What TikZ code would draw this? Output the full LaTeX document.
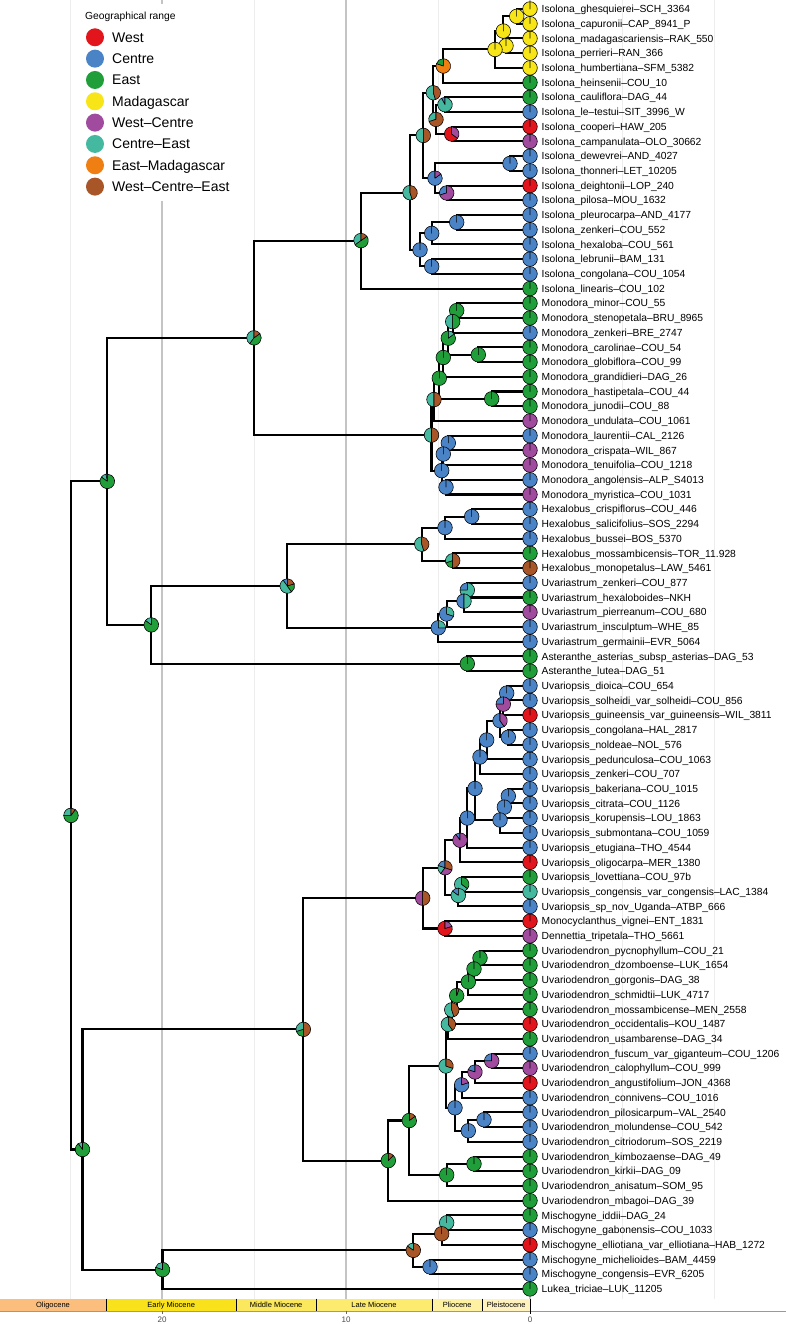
\documentclass[tikz,border=0pt]{standalone}
\usepackage{fontspec}
\setmainfont{Liberation Sans}
\usetikzlibrary{calc}
\definecolor{cW}{HTML}{E3151C}
\definecolor{cC}{HTML}{4A83C6}
\definecolor{cE}{HTML}{1F9E3A}
\definecolor{cM}{HTML}{F7E517}
\definecolor{cWC}{HTML}{A04B9E}
\definecolor{cCE}{HTML}{45B8A0}
\definecolor{cEM}{HTML}{EF7F12}
\definecolor{cWCE}{HTML}{A85628}
\definecolor{gridmaj}{HTML}{C4C4C4}
\definecolor{gridmin}{HTML}{EDEDED}
\definecolor{epOl}{HTML}{FBBE7C}
\definecolor{epEM}{HTML}{F9E21C}
\definecolor{epMM}{HTML}{FBE85C}
\definecolor{epLM}{HTML}{FDEB70}
\definecolor{epPl}{HTML}{FEF1A2}
\definecolor{epPs}{HTML}{FFF2BE}
\newcommand{\pierad}{7.3pt}
\newcommand{\npie}[2]{%
  \gdef\pang{90}%
  \foreach \pc/\pf in {#2}{%
    \pgfmathsetmacro\pend{\pang+360*\pf}%
    \filldraw[fill=\pc, draw=black, line width=0.55pt, line join=round] (#1) -- ++(\pang:\pierad) arc[start angle=\pang, end angle=\pend, radius=\pierad] -- cycle;%
    \xdef\pang{\pend}%
  }%
}
\newcommand{\inode}[4]{%
  \path let \p1=(#3), \p2=(#4) in coordinate (#1) at (#2pt, {(\y1+\y2)/2});%
  \draw[branch] (#3) -| (#1) |- (#4);%
}
\begin{document}
\begin{tikzpicture}[x=1pt,y=-1pt,
  branch/.style={line width=2.05pt, black},
  tiplab/.style={anchor=base west, inner sep=0pt, xshift=11.5pt, yshift=-3.7pt, font=\fontsize{10.3}{12}\selectfont},
  legdot/.style={circle, inner sep=0pt, minimum size=18pt},
  legtxt/.style={anchor=base west, inner sep=0pt, font=\fontsize{14}{16}\selectfont},
  eplab/.style={anchor=base, inner sep=0pt, font=\fontsize{7.5}{9}\selectfont},
  ticklab/.style={anchor=base, inner sep=0pt, text=black!70, font=\fontsize{8}{9}\selectfont}]
\useasboundingbox (0,0) rectangle (786,1324);
\fill[white] (0,0) rectangle (786,1324);
% grid
\foreach \gx in {70,254,438,622,714}{\draw[gridmin, line width=0.9pt] (\gx,0) -- (\gx,1298.5);}
\foreach \gx in {162,346,530}{\draw[gridmaj, line width=1.2pt] (\gx,0) -- (\gx,1298.5);}
% legend
\fill[white] (74,4) rectangle (240,201);
\node[anchor=base west, inner sep=0pt, font=\fontsize{10.3}{12}\selectfont] (legtitle) at (85,19.5) {Geographical range};
\foreach \lc/\lt [count=\k] in {cW/West, cC/Centre, cE/East, cM/Madagascar, cWC/West--Centre, cCE/Centre--East, cEM/East--Madagascar, cWCE/West--Centre--East}{
  \node[legdot, fill=\lc] (ld\k) at (95,{37.3+21.33*(\k-1)}) {};
  \node[legtxt] (lt\k) at (112,{42.3+21.33*(\k-1)}) {\lt};
}
% tips
\foreach \n [count=\i] in {
Isolona\_ghesquierei--SCH\_3364, Isolona\_capuronii--CAP\_8941\_P, Isolona\_madagascariensis--RAK\_550, Isolona\_perrieri--RAN\_366, Isolona\_humbertiana--SFM\_5382, Isolona\_heinsenii--COU\_10, Isolona\_cauliflora--DAG\_44, Isolona\_le--testui--SIT\_3996\_W, Isolona\_cooperi--HAW\_205, Isolona\_campanulata--OLO\_30662,
Isolona\_dewevrei--AND\_4027, Isolona\_thonneri--LET\_10205, Isolona\_deightonii--LOP\_240, Isolona\_pilosa--MOU\_1632, Isolona\_pleurocarpa--AND\_4177, Isolona\_zenkeri--COU\_552, Isolona\_hexaloba--COU\_561, Isolona\_lebrunii--BAM\_131, Isolona\_congolana--COU\_1054, Isolona\_linearis--COU\_102,
Monodora\_minor--COU\_55, Monodora\_stenopetala--BRU\_8965, Monodora\_zenkeri--BRE\_2747, Monodora\_carolinae--COU\_54, Monodora\_globiflora--COU\_99, Monodora\_grandidieri--DAG\_26, Monodora\_hastipetala--COU\_44, Monodora\_junodii--COU\_88, Monodora\_undulata--COU\_1061, Monodora\_laurentii--CAL\_2126,
Monodora\_crispata--WIL\_867, Monodora\_tenuifolia--COU\_1218, Monodora\_angolensis--ALP\_S4013, Monodora\_myristica--COU\_1031, Hexalobus\_crispiflorus--COU\_446, Hexalobus\_salicifolius--SOS\_2294, Hexalobus\_bussei--BOS\_5370, Hexalobus\_mossambicensis--TOR\_11.928, Hexalobus\_monopetalus--LAW\_5461, Uvariastrum\_zenkeri--COU\_877,
Uvariastrum\_hexaloboides--NKH, Uvariastrum\_pierreanum--COU\_680, Uvariastrum\_insculptum--WHE\_85, Uvariastrum\_germainii--EVR\_5064, Asteranthe\_asterias\_subsp\_asterias--DAG\_53, Asteranthe\_lutea--DAG\_51, Uvariopsis\_dioica--COU\_654, Uvariopsis\_solheidi\_var\_solheidi--COU\_856, Uvariopsis\_guineensis\_var\_guineensis--WIL\_3811, Uvariopsis\_congolana--HAL\_2817,
Uvariopsis\_noldeae--NOL\_576, Uvariopsis\_pedunculosa--COU\_1063, Uvariopsis\_zenkeri--COU\_707, Uvariopsis\_bakeriana--COU\_1015, Uvariopsis\_citrata--COU\_1126, Uvariopsis\_korupensis--LOU\_1863, Uvariopsis\_submontana--COU\_1059, Uvariopsis\_etugiana--THO\_4544, Uvariopsis\_oligocarpa--MER\_1380, Uvariopsis\_lovettiana--COU\_97b,
Uvariopsis\_congensis\_var\_congensis--LAC\_1384, Uvariopsis\_sp\_nov\_Uganda--ATBP\_666, Monocyclanthus\_vignei--ENT\_1831, Dennettia\_tripetala--THO\_5661, Uvariodendron\_pycnophyllum--COU\_21, Uvariodendron\_dzomboense--LUK\_1654, Uvariodendron\_gorgonis--DAG\_38, Uvariodendron\_schmidtii--LUK\_4717, Uvariodendron\_mossambicense--MEN\_2558, Uvariodendron\_occidentalis--KOU\_1487,
Uvariodendron\_usambarense--DAG\_34, Uvariodendron\_fuscum\_var\_giganteum--COU\_1206, Uvariodendron\_calophyllum--COU\_999, Uvariodendron\_angustifolium--JON\_4368, Uvariodendron\_connivens--COU\_1016, Uvariodendron\_pilosicarpum--VAL\_2540, Uvariodendron\_molundense--COU\_542, Uvariodendron\_citriodorum--SOS\_2219, Uvariodendron\_kimbozaense--DAG\_49, Uvariodendron\_kirkii--DAG\_09,
Uvariodendron\_anisatum--SOM\_95, Uvariodendron\_mbagoi--DAG\_39, Mischogyne\_iddii--DAG\_24, Mischogyne\_gabonensis--COU\_1033, Mischogyne\_elliotiana\_var\_elliotiana--HAB\_1272, Mischogyne\_michelioides--BAM\_4459, Mischogyne\_congensis--EVR\_6205, Lukea\_triciae--LUK\_11205}{
  \coordinate (t\i) at (530,{9+(\i-1)*14.712});
  \node[tiplab] (lab\i) at (t\i) {\n};
}
% internal nodes (Isolona)
\inode{A1}{516.7}{t1}{t2}
\inode{A2}{506}{t3}{t4}
\inode{A3}{503.3}{A1}{A2}
\inode{A4}{495}{A3}{t5}
\inode{A5}{443.3}{A4}{t6}
\inode{B1}{445}{t7}{t8}
\inode{B2}{451.7}{t9}{t10}
\inode{B3}{436}{B1}{B2}
\inode{B4}{433.3}{A5}{B3}
\inode{C1}{510}{t11}{t12}
\inode{C2}{446.7}{t13}{t14}
\inode{C3}{435}{C1}{C2}
\inode{B5}{423.3}{B4}{C3}
\inode{Dd1}{456.7}{t15}{t16}
\inode{Dd2}{431.7}{Dd1}{t17}
\inode{Dd3}{431.7}{t18}{t19}
\inode{Dd4}{420}{Dd2}{Dd3}
\inode{E1}{410}{B5}{Dd4}
\inode{E2}{361}{E1}{t20}
% Monodora
\inode{M1}{456.7}{t21}{t22}
\inode{M2}{452.7}{M1}{t23}
\inode{Mcg}{478.3}{t24}{t25}
\inode{M3}{448.3}{M2}{Mcg}
\inode{M4}{443.3}{M3}{t26}
\inode{Mhj}{491.7}{t27}{t28}
\inode{M5}{439.3}{M4}{Mhj}
\inode{M6}{434}{M5}{t29}
\inode{L1}{448.3}{t30}{t31}
\inode{L2}{443.3}{L1}{t32}
\inode{L3}{446}{t33}{t34}
\inode{L4}{441.7}{L2}{L3}
\inode{M7}{431.5}{M6}{L4}
\inode{F}{254}{E2}{M7}
% Hexalobus, Uvariastrum, Asteranthe
\inode{Hx1}{471.7}{t35}{t36}
\inode{Hx2}{445}{Hx1}{t37}
\inode{Hx3}{452.7}{t38}{t39}
\inode{Hx4}{421.7}{Hx2}{Hx3}
\inode{U1}{467.3}{t40}{t41}
\inode{U2}{464}{U1}{t42}
\inode{U3}{446.7}{U2}{t43}
\inode{U4}{438.3}{U3}{t44}
\inode{Ih}{287.3}{Hx4}{U4}
\inode{Ast}{467.3}{t45}{t46}
\inode{H}{151.3}{Ih}{Ast}
\inode{G}{107.3}{F}{H}
% Uvariopsis
\inode{P1}{506.7}{t47}{t48}
\inode{P2}{503.3}{P1}{t49}
\inode{P4}{508.3}{t50}{t51}
\inode{P3}{500}{P2}{P4}
\inode{P5}{486.7}{P3}{t52}
\inode{P6}{480}{P5}{t53}
\inode{Q1}{508.3}{t54}{t55}
\inode{Q2}{504.3}{Q1}{t56}
\inode{Q3}{500}{Q2}{t57}
\inode{P7}{475}{P6}{Q3}
\inode{P8}{467.3}{P7}{t58}
\inode{P9}{460}{P8}{t59}
\inode{R1}{461.7}{t60}{t61}
\inode{R2}{458.3}{R1}{t62}
\inode{P10}{445}{P9}{R2}
\inode{S}{445}{t63}{t64}
\inode{P11}{422.7}{P10}{S}
% Uvariodendron
\inode{D1}{480}{t65}{t66}
\inode{D2}{474}{D1}{t67}
\inode{D3}{468.3}{D2}{t68}
\inode{D4}{456.7}{D3}{t69}
\inode{D5}{451.7}{D4}{t70}
\inode{D6}{448.3}{D5}{t71}
\inode{W1}{491.7}{t72}{t73}
\inode{W2}{475}{W1}{t74}
\inode{W3}{461.7}{W2}{t75}
\inode{W4}{484}{t76}{t77}
\inode{W5}{468.3}{W4}{t78}
\inode{W6}{455}{W3}{W5}
\inode{D7}{446}{D6}{W6}
\inode{K1}{474}{t79}{t80}
\inode{K2}{446.7}{K1}{t81}
\inode{D8}{409.3}{D7}{K2}
\inode{D9}{388.3}{D8}{t82}
\inode{T}{303.3}{P11}{D9}
% Mischogyne, Lukea, root
\inode{X1}{446.7}{t83}{t84}
\inode{X2}{441.7}{X1}{t85}
\inode{X3}{430}{t86}{t87}
\inode{X4}{413.3}{X2}{X3}
\inode{Y1}{162.5}{X4}{t88}
\inode{Z}{82.5}{T}{Y1}
\inode{Root}{71}{G}{Z}
% tip pies
\foreach \tc [count=\i] in {cM,cM,cM,cM,cM,cE,cE,cC,cW,cWC,
 cC,cC,cW,cC, cC,cC,cC,cC,cC,cE,
 cE,cE,cC,cE,cE,cE,cE,cE,cWC,cC,cWC,cWC,cC,cWC,
 cC,cC,cC,cE,cWCE, cC,cE,cWC,cC,cC, cE,cE,
 cC,cC,cW,cC,cC,cC,cC,cC,cC,cC,cC,cC,cW,cE,cCE,cC,cW,cWC,
 cE,cE,cE,cE,cE,cW,cE,cC,cWC,cW,cC,cC,cC,cC,cE,cE,cE,cE,
 cE,cC,cW,cC,cC,cE}{\npie{t\i}{\tc/1}}
% internal pies
\npie{A1}{cM/1}\npie{A2}{cM/1}\npie{A3}{cM/1}\npie{A4}{cM/1}
\npie{A5}{cE/.2,cEM/.8}
\npie{B1}{cC/.08,cCE/.92}
\npie{B2}{cW/.65,cWC/.35}
\npie{B3}{cCE/.3,cWCE/.7}
\npie{B4}{cCE/.55,cWCE/.45}
\npie{C1}{cC/1}
\npie{C2}{cC/.3,cWC/.7}
\npie{C3}{cC/.85,cWC/.15}
\npie{B5}{cCE/.5,cWCE/.5}
\npie{Dd1}{cC/1}\npie{Dd2}{cC/1}\npie{Dd3}{cC/1}\npie{Dd4}{cC/1}
\npie{E1}{cCE/.55,cWCE/.45}
\npie{E2}{cCE/.35,cE/.5,cWCE/.15}
\npie{M1}{cE/1}
\npie{M2}{cCE/.5,cE/.5}
\npie{Mcg}{cE/1}
\npie{M3}{cE/.85,cCE/.15}
\npie{M4}{cE/1}\npie{Mhj}{cE/1}\npie{M5}{cE/1}
\npie{M6}{cCE/.5,cWCE/.5}
\npie{L1}{cC/1}\npie{L2}{cC/1}\npie{L3}{cC/1}\npie{L4}{cC/1}
\npie{M7}{cCE/.5,cWCE/.5}
\npie{F}{cCE/.4,cE/.45,cWCE/.15}
\npie{Hx1}{cC/1}\npie{Hx2}{cC/1}
\npie{Hx3}{cCE/.3,cE/.2,cWCE/.5}
\npie{Hx4}{cCE/.55,cWCE/.45}
\npie{U1}{cC/.25,cCE/.75}
\npie{U2}{cC/.5,cCE/.5}
\npie{U3}{cC/.7,cCE/.3}
\npie{U4}{cC/.75,cCE/.25}
\npie{Ih}{cC/.1,cCE/.5,cE/.2,cWCE/.2}
\npie{Ast}{cE/1}
\npie{H}{cCE/.15,cE/.85}
\npie{G}{cC/.03,cCE/.12,cE/.85}
\npie{P1}{cC/1}
\npie{P2}{cC/.25,cWC/.75}
\npie{P4}{cC/1}
\npie{P3}{cC/.6,cWC/.4}
\npie{P5}{cC/1}\npie{P6}{cC/1}\npie{P7}{cC/1}\npie{P8}{cC/1}
\npie{Q1}{cC/1}\npie{Q2}{cC/1}\npie{Q3}{cC/1}
\npie{P9}{cC/.1,cWC/.9}
\npie{R1}{cCE/.65,cE/.35}
\npie{R2}{cC/.15,cCE/.85}
\npie{P10}{cC/.2,cCE/.2,cWC/.3,cWCE/.3}
\npie{S}{cW/.8,cWC/.2}
\npie{P11}{cWC/.5,cWCE/.5}
\npie{D1}{cE/1}\npie{D2}{cE/1}\npie{D3}{cE/1}
\npie{D4}{cE/.95,cWCE/.05}
\npie{D5}{cCE/.55,cWCE/.45}
\npie{D6}{cCE/.6,cWCE/.4}
\npie{W1}{cC/.25,cWC/.75}
\npie{W2}{cC/.2,cWC/.8}
\npie{W3}{cC/.8,cWC/.2}
\npie{W4}{cC/1}\npie{W5}{cC/1}\npie{W6}{cC/1}
\npie{D7}{cCE/.7,cWCE/.3}
\npie{K1}{cE/1}\npie{K2}{cE/1}
\npie{D8}{cE/.85,cWCE/.15}
\npie{D9}{cE/.88,cWCE/.12}
\npie{T}{cCE/.3,cE/.2,cWCE/.5}
\npie{X1}{cCE/1}
\npie{X2}{cWCE/1}
\npie{X3}{cC/1}
\npie{X4}{cCE/.15,cWCE/.85}
\npie{Y1}{cCE/.2,cE/.8}
\npie{Z}{cCE/.1,cE/.9}
\npie{Root}{cCE/.25,cE/.65,cWCE/.1}
% time axis
\draw[black!40, line width=1.5pt] (0,1311.5) -- (786,1311.5);
\fill[epOl] (0,1298.5) rectangle (106.2,1310.5);
\fill[epEM] (106.2,1298.5) rectangle (236.2,1310.5);
\fill[epMM] (236.2,1298.5) rectangle (316,1310.5);
\fill[epLM] (316,1298.5) rectangle (431.9,1310.5);
\fill[epPl] (431.9,1298.5) rectangle (482.5,1310.5);
\fill[epPs] (482.5,1298.5) rectangle (530,1310.5);
\foreach \bx in {106.2,236.2,316,431.9,482.5}{\draw[black, line width=0.7pt] (\bx,1298.5) -- (\bx,1310.5);}
\draw[black, line width=0.9pt] (530,1298.5) -- (530,1313.5);
\node[eplab] (ep1) at (53,1307.2) {Oligocene};
\node[eplab] (ep2) at (171.2,1307.2) {Early Miocene};
\node[eplab] (ep3) at (276.1,1307.2) {Middle Miocene};
\node[eplab] (ep4) at (374,1307.2) {Late Miocene};
\node[eplab] (ep5) at (457.2,1307.2) {Pliocene};
\node[eplab] (ep6) at (506.2,1307.2) {Pleistocene};
\foreach \tx in {162,346}{\draw[black!60, line width=0.6pt] (\tx,1310.5) -- (\tx,1313.5);}
\node[ticklab] (tk20) at (162,1322) {20};
\node[ticklab] (tk10) at (346,1322) {10};
\node[ticklab] (tk0) at (530,1322) {0};
\end{tikzpicture}
\end{document}
